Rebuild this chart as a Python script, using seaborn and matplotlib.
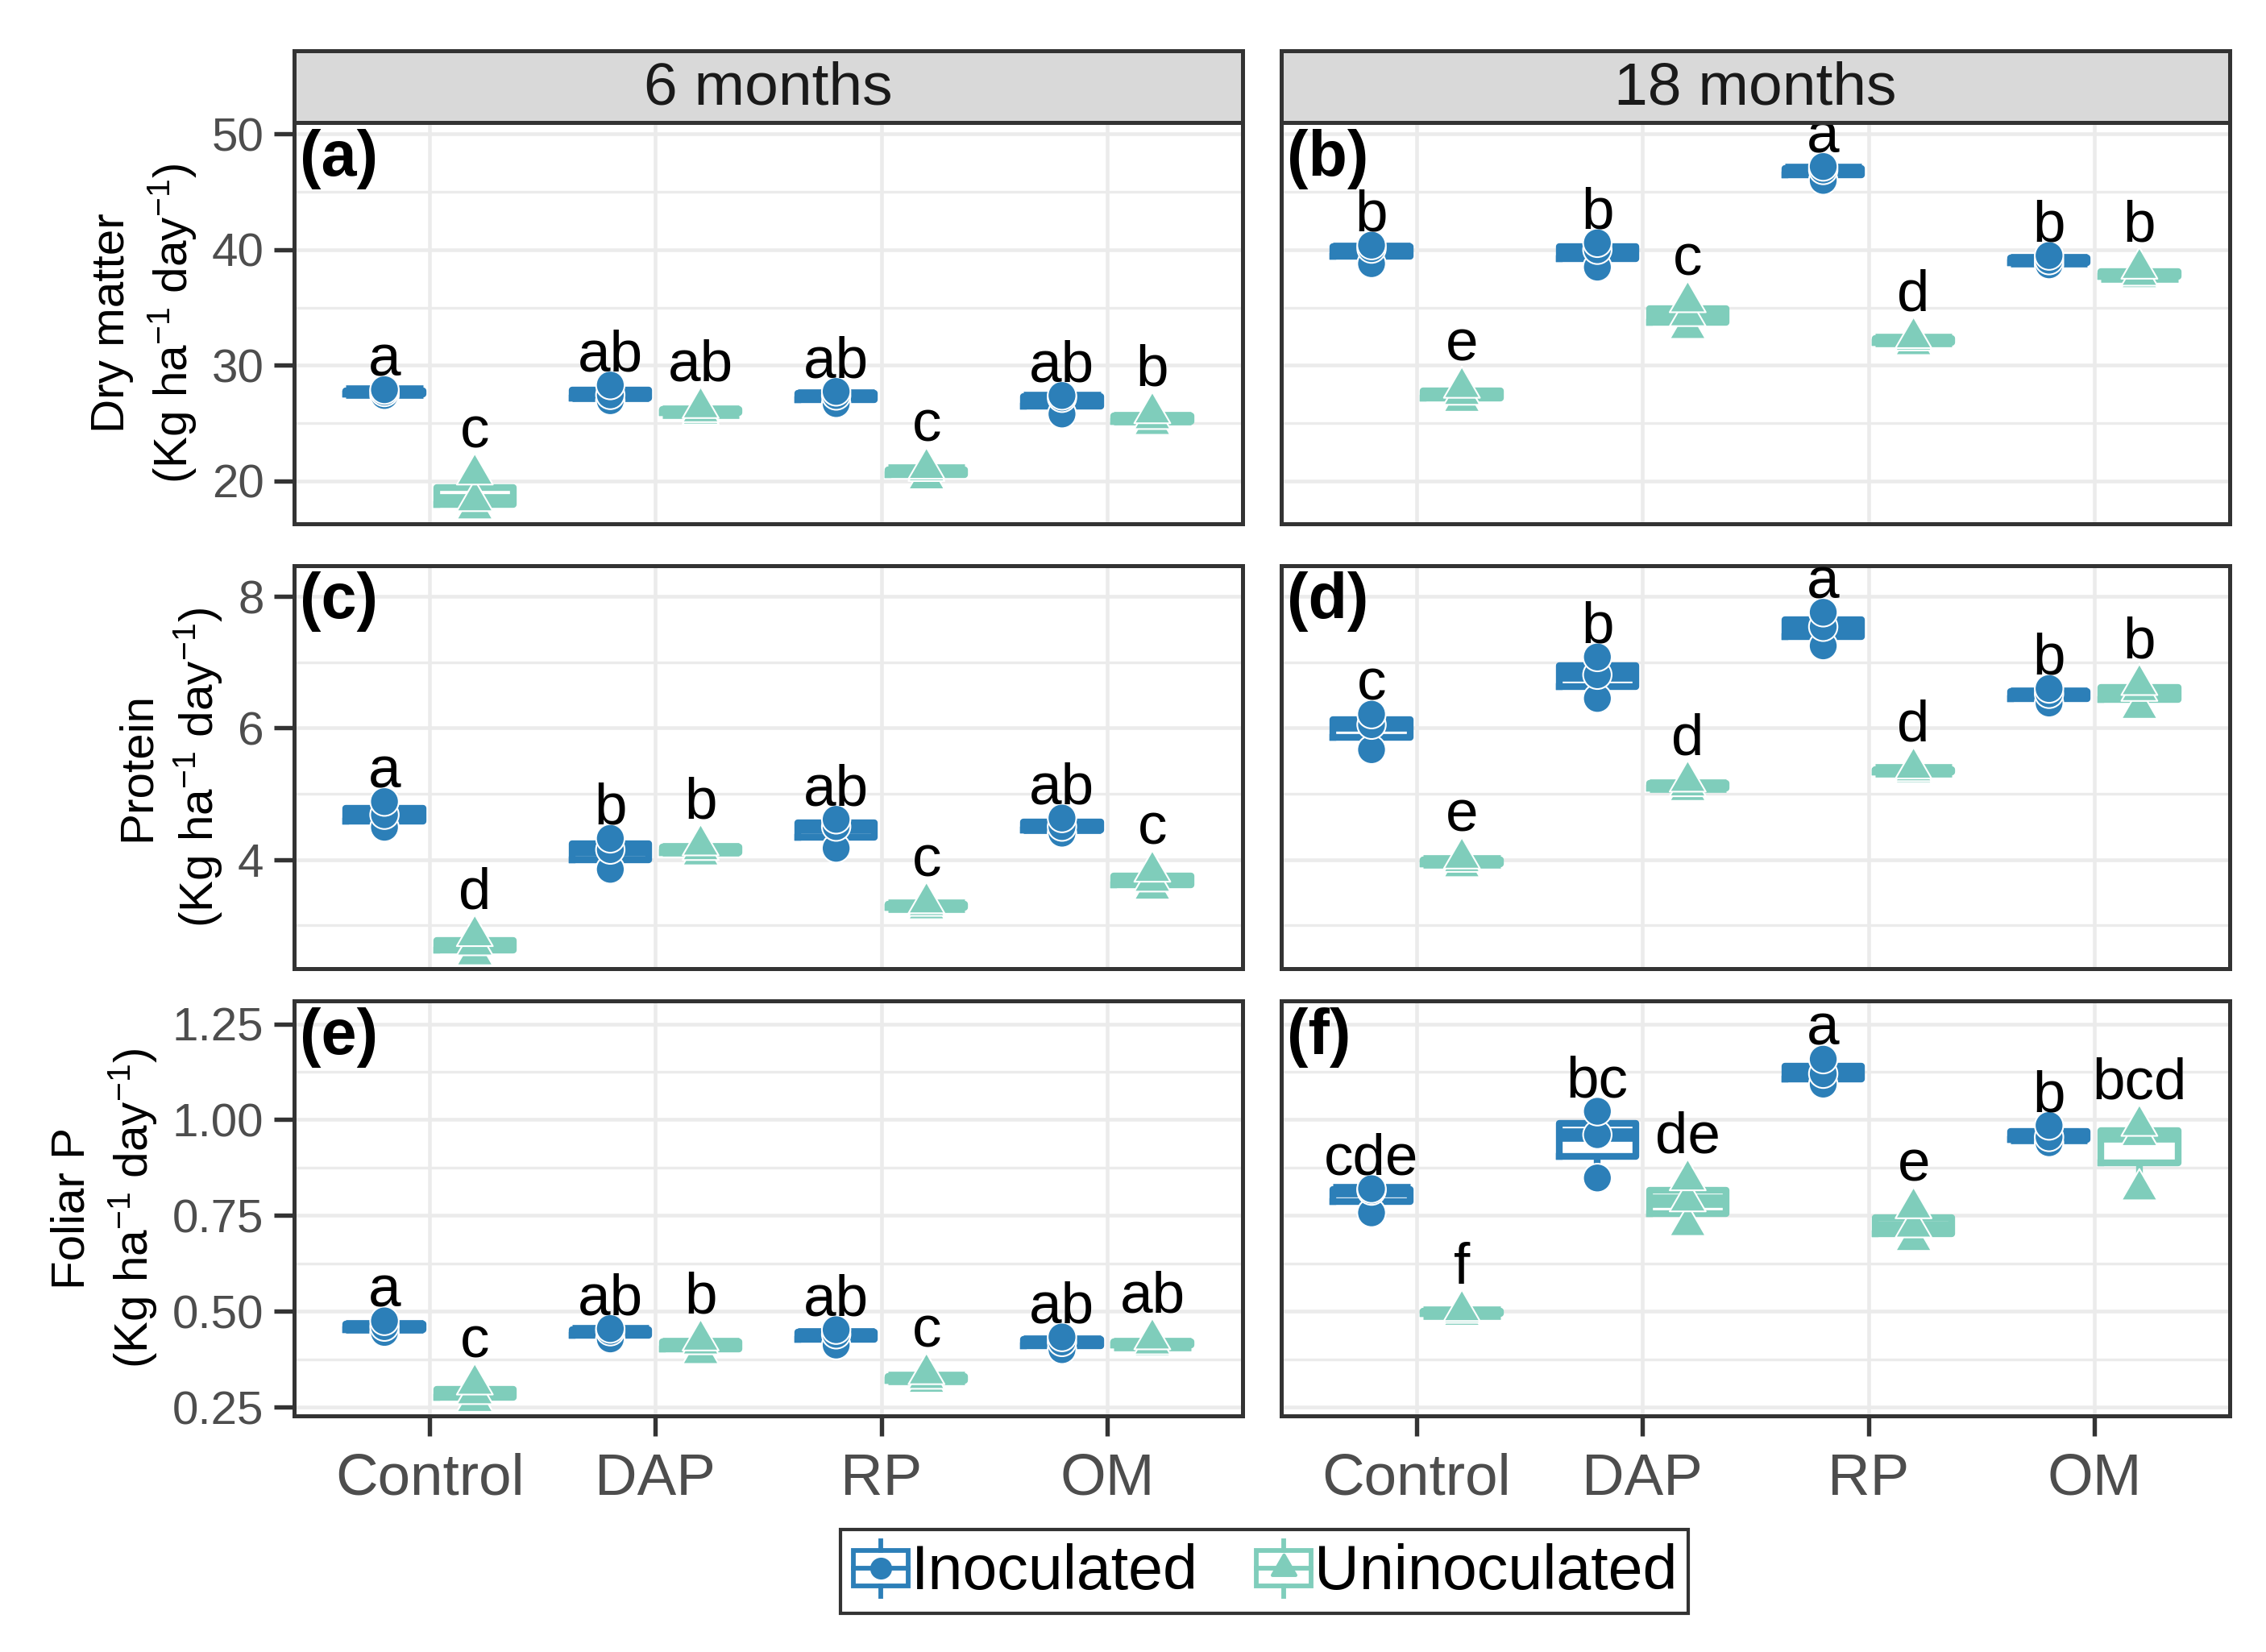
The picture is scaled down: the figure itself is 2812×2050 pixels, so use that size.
import numpy as np
import pandas as pd
import matplotlib
matplotlib.use("Agg")
import matplotlib.pyplot as plt
import seaborn as sns
from matplotlib.lines import Line2D
from matplotlib.patches import Rectangle
from matplotlib.path import Path
from matplotlib.legend_handler import HandlerBase
from matplotlib.ticker import MultipleLocator, FormatStrFormatter

treatments = ["Control", "DAP", "RP", "OM"]
inoculation = ["Inoculated", "Uninoculated"]
times = ["6 months", "18 months"]

# three replicates per treatment (Control, DAP, RP, OM)
dm6_inoc = [[27.4, 27.7, 27.9], [26.95, 27.45, 28.3], [26.7, 27.4, 27.75], [25.8, 27.2, 27.4]]
dm6_unin = [[17.6, 18.3, 20.6], [25.8, 26.0, 26.35], [20.2, 20.9, 21.1], [24.9, 25.4, 25.9]]
dm18_inoc = [[38.8, 40.1, 40.4], [38.5, 40.0, 40.6], [46.0, 46.9, 47.2], [38.7, 39.1, 39.5]]
dm18_unin = [[26.9, 27.5, 28.1], [33.2, 34.3, 35.5], [31.8, 32.2, 32.4], [37.6, 37.8, 38.4]]

pr6_inoc = [[4.49, 4.68, 4.88], [3.85, 4.15, 4.32], [4.17, 4.5, 4.61], [4.4, 4.5, 4.63]]
pr6_unin = [[2.55, 2.7, 2.84], [4.07, 4.15, 4.22], [3.25, 3.3, 3.34], [3.55, 3.67, 3.82]]
pr18_inoc = [[5.67, 6.05, 6.21], [6.45, 6.81, 7.08], [7.25, 7.54, 7.76], [6.38, 6.52, 6.6]]
pr18_unin = [[3.89, 3.97, 4.02], [5.05, 5.12, 5.19], [5.32, 5.35, 5.39], [6.3, 6.57, 6.66]]

fp6_inoc = [[0.445, 0.46, 0.475], [0.428, 0.448, 0.455], [0.412, 0.44, 0.452], [0.40, 0.42, 0.433]]
fp6_unin = [[0.265, 0.285, 0.31], [0.39, 0.415, 0.425], [0.315, 0.325, 0.337], [0.41, 0.415, 0.428]]
fp18_inoc = [[0.757, 0.815, 0.82], [0.848, 0.961, 1.022], [1.093, 1.12, 1.158], [0.94, 0.955, 0.985]]
fp18_unin = [[0.49, 0.497, 0.502], [0.724, 0.788, 0.843], [0.685, 0.72, 0.77], [0.817, 0.959, 0.985]]

# significance letters, (inoculated, uninoculated) per treatment
let_dm6 = [["a", "c"], ["ab", "ab"], ["ab", "c"], ["ab", "b"]]
let_dm18 = [["b", "e"], ["b", "c"], ["a", "d"], ["b", "b"]]
let_pr6 = [["a", "d"], ["b", "b"], ["ab", "c"], ["ab", "c"]]
let_pr18 = [["c", "e"], ["b", "d"], ["a", "d"], ["b", "b"]]
let_fp6 = [["a", "c"], ["ab", "b"], ["ab", "c"], ["ab", "ab"]]
let_fp18 = [["cde", "f"], ["bc", "de"], ["a", "e"], ["b", "bcd"]]

row_titles = ["Dry matter\n(Kg ha$^{-1}$ day$^{-1}$)",
              "Protein\n(Kg ha$^{-1}$ day$^{-1}$)",
              "Foliar P\n(Kg ha$^{-1}$ day$^{-1}$)"]
panel_tags = [["(a)", "(b)"], ["(c)", "(d)"], ["(e)", "(f)"]]

panels = [
    [(dm6_inoc, dm6_unin, let_dm6), (dm18_inoc, dm18_unin, let_dm18)],
    [(pr6_inoc, pr6_unin, let_pr6), (pr18_inoc, pr18_unin, let_pr18)],
    [(fp6_inoc, fp6_unin, let_fp6), (fp18_inoc, fp18_unin, let_fp18)],
]

row_ylim = [(16.3, 51.0), (2.34, 8.47), (0.227, 1.31)]
row_major = [10, 2, 0.25]

blue = "#2C7FB8"
teal = "#7FCDBB"
pal = {"Inoculated": blue, "Uninoculated": teal}

# R style filled triangle (pch 17), centred like ggplot does it
tri = Path([(0, 1.555), (1.347, -0.778), (-1.347, -0.778), (0, 1.555)], closed=True)
mk = {"Inoculated": "o", "Uninoculated": tri}
msize = {"Inoculated": 8.5, "Uninoculated": 12.4}
lab_off = {"Inoculated": 4.2, "Uninoculated": 8}

plt.rcParams["font.family"] = ["Liberation Sans", "DejaVu Sans"]
plt.rcParams["mathtext.fontset"] = "custom"
plt.rcParams["mathtext.rm"] = "Liberation Sans"
plt.rcParams["mathtext.it"] = "Liberation Sans:italic"
plt.rcParams["mathtext.default"] = "regular"

fig = plt.figure(figsize=(2812 / 300, 2050 / 300), dpi=300)

col_x = [0.1298, 0.5654]
col_w = 0.4186
row_y = [(0.6829, 0.2429), (0.4137, 0.2439), (0.1429, 0.2512)]
border = "#333333"

for r in range(3):
    for c in range(2):
        inoc_vals, unin_vals, letters = panels[r][c]
        rows = []
        for i, t in enumerate(treatments):
            for v in inoc_vals[i]:
                rows.append((t, "Inoculated", v))
            for v in unin_vals[i]:
                rows.append((t, "Uninoculated", v))
        d = pd.DataFrame(rows, columns=["treatment", "inoc", "value"])

        ax = fig.add_axes([col_x[c], row_y[r][0], col_w, row_y[r][1]])
        ax.set_axisbelow(True)

        sns.boxplot(data=d, x="treatment", y="value", hue="inoc", order=treatments,
                    hue_order=inoculation, palette=pal, fill=False, width=0.8, gap=0.15,
                    linewidth=2.0, showfliers=False,
                    medianprops={"linewidth": 4.0},
                    capprops={"visible": False},
                    boxprops={"solid_joinstyle": "round"},
                    legend=False, ax=ax)

        for h in inoculation:
            sns.stripplot(data=d[d["inoc"] == h], x="treatment", y="value", hue="inoc",
                          order=treatments, hue_order=inoculation, palette=pal,
                          dodge=True, jitter=False, marker=mk[h], size=msize[h],
                          edgecolor="white", linewidth=0.5, legend=False, zorder=3, ax=ax)

        # letters above each group
        for i in range(4):
            for j, h in enumerate(inoculation):
                vals = inoc_vals[i] if j == 0 else unin_vals[i]
                x = i + (-0.2 if j == 0 else 0.2)
                ax.annotate(letters[i][j], (x, max(vals)), xytext=(0, lab_off[h]),
                            textcoords="offset points", ha="center", va="baseline",
                            fontsize=17.5, color="black", zorder=4)

        ax.text(0.006, 0.985, panel_tags[r][c], transform=ax.transAxes, ha="left", va="top",
                fontsize=19, fontweight="bold", color="black")

        ax.set_xlim(-0.6, 3.6)
        ax.set_ylim(*row_ylim[r])
        ax.yaxis.set_major_locator(MultipleLocator(row_major[r]))
        ax.yaxis.set_minor_locator(MultipleLocator(row_major[r] / 2))
        if r == 2:
            ax.yaxis.set_major_formatter(FormatStrFormatter("%.2f"))
        ax.grid(which="major", color="#EBEBEB", linewidth=1.1, zorder=0)
        ax.grid(which="minor", axis="y", color="#EBEBEB", linewidth=0.8, zorder=0)
        ax.set_facecolor("white")
        for s in ax.spines.values():
            s.set_color(border)
            s.set_linewidth(1.2)
        ax.tick_params(which="minor", length=0)
        ax.tick_params(axis="both", which="major", length=6, width=1.3, color=border)
        ax.set_xlabel("")
        ax.set_ylabel("")

        if c == 0:
            ax.tick_params(axis="y", labelsize=14, labelcolor="#4D4D4D", pad=3)
            ax.set_ylabel(row_titles[r], fontsize=14, color="black", labelpad=4, linespacing=1.3)
        else:
            ax.tick_params(axis="y", left=False, labelleft=False)
        if r == 2:
            ax.tick_params(axis="x", labelsize=17.5, labelcolor="#4D4D4D", pad=5)
        else:
            ax.tick_params(axis="x", bottom=False, labelbottom=False)

# facet strips
for c in range(2):
    sax = fig.add_axes([col_x[c], 0.9259, col_w, 0.0434])
    sax.set_facecolor("#D9D9D9")
    sax.set_xticks([])
    sax.set_yticks([])
    for s in sax.spines.values():
        s.set_color(border)
        s.set_linewidth(1.2)
    sax.text(0.5, 0.47, times[c], ha="center", va="center", fontsize=18, color="#1A1A1A",
             transform=sax.transAxes)


class BoxKey(HandlerBase):
    def create_artists(self, legend, orig_handle, xdescent, ydescent, width, height, fontsize, trans):
        col = orig_handle.get_color()
        x0 = -xdescent
        y0 = -ydescent
        cx = x0 + width / 2
        box = Rectangle((x0 + 0.04 * width, y0 + 0.18 * height), 0.92 * width, 0.64 * height,
                        fill=False, edgecolor=col, linewidth=1.4, transform=trans)
        med = Line2D([x0 + 0.04 * width, x0 + 0.96 * width], [y0 + height / 2] * 2,
                     color=col, linewidth=1.4, transform=trans)
        w1 = Line2D([cx, cx], [y0, y0 + 0.18 * height], color=col, linewidth=1.4, transform=trans)
        w2 = Line2D([cx, cx], [y0 + 0.82 * height, y0 + height], color=col, linewidth=1.4,
                    transform=trans)
        pt = Line2D([cx], [y0 + height / 2], marker=orig_handle.get_marker(),
                    markersize=orig_handle.get_markersize(), color=col, linestyle="none",
                    transform=trans)
        return [box, med, w1, w2, pt]


handles = [Line2D([], [], color=blue, marker="o", markersize=5.5),
           Line2D([], [], color=teal, marker=tri, markersize=8)]
leg = fig.legend(handles, inoculation, handler_map={Line2D: BoxKey()}, loc="center",
                 bbox_to_anchor=(0.558, 0.0488), ncol=2, fontsize=18.5, frameon=True,
                 fancybox=False, edgecolor="black", handlelength=0.95, handleheight=1.0,
                 handletextpad=0.02, columnspacing=0.9, borderpad=0.17, borderaxespad=0)
leg.get_frame().set_linewidth(1.0)

fig.savefig("out.png", dpi=300)
